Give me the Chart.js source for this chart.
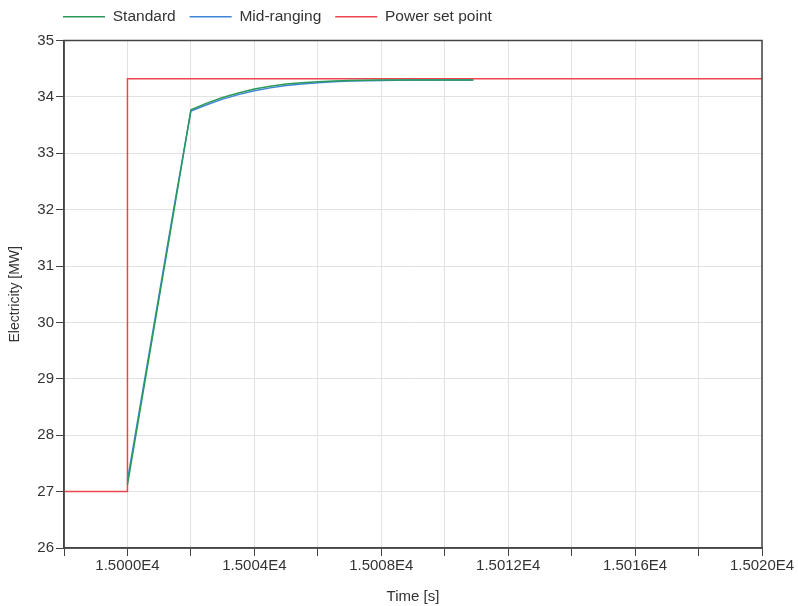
<!DOCTYPE html>
<html>
<head>
<meta charset="utf-8">
<script src="https://cdn.jsdelivr.net/npm/chart.js@4"></script>
<style>
  html, body { margin: 0; padding: 0; background: #fff; }
  #wrap { width: 798px; height: 606px; }
</style>
</head>
<body>
<div id="wrap"><canvas id="chart" width="798" height="606"></canvas></div>
<script>
// ── Data ────────────────────────────────────────────────────
const timeResp   = [15000, 15000.5, 15001, 15001.5, 15002, 15002.5, 15003, 15003.5, 15004,
                    15004.5, 15005, 15005.5, 15006, 15006.5, 15007, 15008, 15009, 15010, 15010.9];
const standard   = [27.12, 28.78, 30.44, 32.1, 33.77, 33.89, 33.99, 34.07, 34.14,
                    34.19, 34.23, 34.25, 34.27, 34.28, 34.29, 34.30, 34.30, 34.30, 34.30];
const midRanging = [27.2, 28.85, 30.5, 32.15, 33.75, 33.86, 33.96, 34.04, 34.11,
                    34.16, 34.20, 34.23, 34.25, 34.27, 34.28, 34.29, 34.30, 34.30, 34.30];
const timeSet    = [14998, 15000, 15000, 15020];
const setPoint   = [27, 27, 34.32, 34.32];

const xMin = 14998, xMax = 15020;
const yMin = 26, yMax = 35;

const pts = (xs, ys) => xs.map((x, i) => ({ x, y: ys[i] }));

// ── Frame around the plot area + legend placement ───────────
const frame = {
    id: 'frame',
    afterLayout(chart) {
        // legend sits left-aligned just above the plot, slightly left of it
        chart.legend.left = 49;
        chart.legend.top -= 6;
    },
    afterDatasetsDraw(chart) {
        const { ctx, chartArea: a } = chart;
        ctx.save();
        ctx.strokeStyle = '#444';
        ctx.lineWidth = 1.5;
        ctx.strokeRect(a.left, a.top, a.right - a.left, a.bottom - a.top);
        ctx.restore();
    }
};

const FAMILY = '"Liberation Sans", Arial, sans-serif';
const FONT = { family: FAMILY, size: 15 };
const TEXT = '#333';

new Chart(document.getElementById('chart').getContext('2d'), {
    type: 'scatter',
    data: {
        datasets: [
            { label: 'Standard',        data: pts(timeResp, standard),   borderColor: '#2a9a58', backgroundColor: '#2a9a58' },
            { label: 'Mid-ranging',     data: pts(timeResp, midRanging), borderColor: '#3d84d6', backgroundColor: '#3d84d6' },
            { label: 'Power set point', data: pts(timeSet, setPoint),    borderColor: '#ea464e', backgroundColor: '#ea464e' },
        ].map(d => ({ ...d, showLine: true, pointRadius: 0, borderWidth: 1.5, tension: 0 })),
    },
    options: {
        responsive: false,
        animation: false,
        layout: { padding: { right: 36, top: 1, left: 0, bottom: 0 } },
        plugins: {
            legend: {
                position: 'top',
                align: 'start',
                fullSize: false,
                labels: {
                    usePointStyle: true,
                    pointStyle: 'line',
                    pointStyleWidth: 42,
                    color: TEXT,
                    font: { family: FAMILY, size: 15.5 },
                    padding: 14,
                },
            },
            tooltip: { enabled: false },
        },
        scales: {
            x: {
                type: 'linear',
                min: xMin, max: xMax,
                afterFit: s => { s.height = 58; },
                ticks: {
                    stepSize: 2,
                    autoSkip: false,
                    maxRotation: 0,
                    padding: 1,
                    color: TEXT,
                    font: FONT,
                    callback: v => (v % 4 === 0 ? (v / 1e4).toFixed(4) + 'E4' : ''),
                },
                grid: { color: '#e2e2e2', tickColor: '#444', tickLength: 8, lineWidth: 1 },
                border: { color: '#444', width: 1.5 },
                title: { display: true, text: 'Time [s]', color: TEXT, font: FONT, padding: { top: 0, bottom: 0 } },
            },
            y: {
                min: yMin, max: yMax,
                afterFit: s => { s.width = 64; },
                ticks: { stepSize: 1, padding: 2, color: TEXT, font: FONT },
                grid: { color: '#e2e2e2', tickColor: '#444', tickLength: 8, lineWidth: 1 },
                border: { color: '#444', width: 1.5 },
                title: { display: true, text: 'Electricity [MW]', color: TEXT, font: { family: FAMILY, size: 14 }, padding: { top: 7, bottom: 0 } },
            },
        },
    },
    plugins: [frame],
});
</script>
</body>
</html>
